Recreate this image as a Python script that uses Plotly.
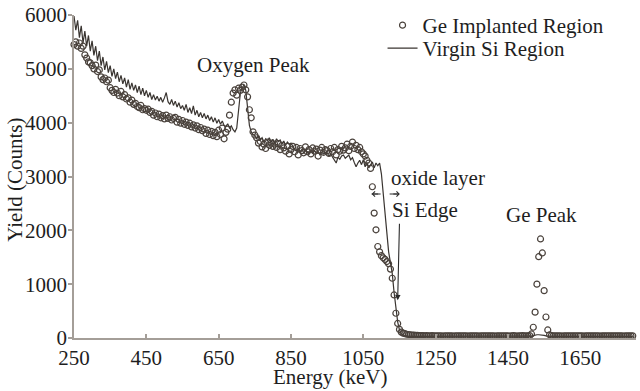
import plotly.graph_objects as go

# Energy grid (keV), one channel every 5 keV
energy_kev = list(range(250, 1800, 5))

# Ge implanted region (open circles), counts
ge_implanted = [
    5450, 5500, 5420, 5480, 5380, 5420, 5260, 5200, 5130, 5110, 5060, 5000, 5070, 4950, 4980, 4850, 4800, 4830, 4760, 4790,
    4650, 4600, 4560, 4620, 4550, 4500, 4580, 4480, 4520, 4440, 4460, 4380, 4420, 4340, 4360, 4300, 4280, 4320, 4240, 4260,
    4230, 4250, 4190, 4210, 4140, 4180, 4110, 4160, 4090, 4130, 4070, 4140, 4080, 4110, 4050, 4080, 4100, 4010, 4060, 3990,
    4040, 3970, 4010, 3950, 3990, 3920, 3960, 3900, 3940, 3870, 3910, 3850, 3880, 3800, 3860, 3780, 3840, 3760, 3820, 3740,
    3860, 3780, 3900, 3700, 3820, 3880, 4140, 4380, 4550, 4610, 4510, 4640, 4600, 4660, 4700, 4610, 4480, 4240, 4090, 3830,
    3770, 3720, 3620, 3650, 3550, 3600, 3520, 3640, 3580, 3620, 3560, 3600, 3540, 3610, 3500, 3580, 3530, 3470, 3560, 3420,
    3500, 3560, 3460, 3540, 3400, 3520, 3480, 3440, 3550, 3460, 3500, 3420, 3530, 3470, 3510, 3380, 3490, 3540, 3450, 3500,
    3480, 3430, 3520, 3460, 3540, 3400, 3500, 3470, 3560, 3490, 3530, 3600, 3480, 3560, 3640, 3520, 3580, 3500, 3540, 3460,
    3420, 3380, 3300, 3250, 3150, 2810, 2320, 2010, 1700, 1600, 1530, 1490, 1460, 1420, 1380, 1280, 1110, 800, 460, 270,
    160, 110, 90, 80, 70, 65, 60, 55, 55, 50, 50, 45, 45, 45, 40, 45, 40, 40, 45, 40,
    40, 38, 42, 40, 36, 40, 42, 38, 40, 40, 36, 42, 40, 38, 40, 42, 38, 40, 36, 40,
    42, 38, 40, 40, 36, 42, 40, 38, 40, 42, 38, 40, 40, 36, 40, 42, 38, 40, 40, 38,
    40, 35, 40, 45, 40, 35, 40, 40, 45, 40, 40, 40, 45, 75, 200, 480, 1000, 1510, 1840, 1580,
    880, 390, 150, 60, 45, 40, 42, 38, 40, 40, 36, 40, 42, 38, 40, 40, 38, 40, 42, 38,
    40, 40, 36, 40, 42, 38, 40, 40, 38, 42, 40, 36, 40, 40, 38, 40, 42, 38, 40, 40,
    38, 40, 42, 40, 36, 40, 40, 38, 40, 40,
]

# Virgin Si region (line), counts
virgin_si = [
    5980, 5720, 5900, 5580, 5800, 5480, 5700, 5420, 5620, 5330, 5520, 5250, 5420, 5150, 5330, 5060, 5220, 4980, 5140, 4930,
    5060, 4860, 5000, 4820, 4940, 4760, 4880, 4720, 4830, 4660, 4800, 4620, 4740, 4600, 4700, 4560, 4680, 4520, 4640, 4500,
    4600, 4470, 4560, 4430, 4520, 4420, 4490, 4400, 4470, 4380, 4460, 4560, 4390, 4340, 4430, 4320, 4400, 4290, 4370, 4260,
    4320, 4230, 4340, 4190, 4280, 4170, 4310, 4140, 4230, 4110, 4190, 4090, 4170, 4070, 4140, 4040, 4110, 4010, 4090, 3990,
    4060, 3970, 4030, 3950, 3930, 3980, 3900, 3940, 3870, 3830, 3900, 4240, 4550, 4650, 4700, 4600, 4290, 3950, 3830, 3780,
    3760, 3700, 3740, 3680, 3720, 3640, 3700, 3660, 3720, 3640, 3690, 3620, 3700, 3650, 3680, 3600, 3660, 3580, 3640, 3600,
    3620, 3550, 3500, 3470, 3520, 3460, 3500, 3440, 3480, 3460, 3420, 3470, 3440, 3480, 3430, 3460, 3400, 3450, 3420, 3440,
    3440, 3380, 3420, 3360, 3300, 3250, 3360, 3320, 3380, 3400, 3340, 3380, 3400, 3310, 3350, 3260, 3180, 3250, 3300, 3220,
    3310, 3180, 3260, 3160, 3220, 3270, 3160, 3250, 3200, 3250, 3050, 2650, 2250, 1900, 1600, 1400, 1200, 850, 550, 300,
    150, 80, 50, 40, 35, 32, 30, 30, 31, 30, 29, 30, 31, 30, 30, 29, 30, 31, 30, 30,
    30, 31, 30, 29, 30, 30, 31, 30, 30, 29, 30, 31, 30, 30, 29, 30, 30, 31, 30, 30,
    29, 30, 31, 30, 30, 30, 29, 30, 31, 30, 30, 30, 29, 30, 31, 30, 30, 29, 30, 30,
    30, 31, 30, 29, 30, 30, 31, 30, 30, 29, 30, 31, 30, 35, 45, 55, 60, 60, 60, 55,
    50, 40, 32, 30, 30, 29, 30, 31, 30, 30, 29, 30, 31, 30, 30, 30, 29, 30, 31, 30,
    30, 29, 30, 31, 30, 30, 30, 29, 30, 31, 30, 30, 29, 30, 30, 31, 30, 30, 29, 30,
    30, 31, 30, 29, 30, 30, 31, 30, 30, 30,
]

x_ticks = [250, 450, 650, 850, 1050, 1250, 1450, 1650]
y_ticks = [0, 1000, 2000, 3000, 4000, 5000, 6000]

FONT = "Liberation Serif"
AXIS_COLOR = "#a49e98"
TEXT_COLOR = "#1e1e1e"
ARROW_COLOR = "#2a2a2a"

fig = go.Figure()
fig.add_trace(go.Scatter(
    x=energy_kev, y=virgin_si, mode="lines", name="Virgin Si Region",
    line=dict(color="#3a3531", width=1.2), cliponaxis=False, legend="legend2",
))
fig.add_trace(go.Scatter(
    x=energy_kev, y=ge_implanted, mode="markers", name="Ge Implanted Region",
    marker=dict(symbol="circle-open", size=6, color="#4a423c", line=dict(width=1.2, color="#4a423c")),
    cliponaxis=False, legend="legend",
))

annotations = [
    dict(x=746, y=5070, text="Oxygen Peak", showarrow=False, xanchor="center", yanchor="middle"),
    dict(x=1120, y=2970, text="oxide layer", showarrow=False, xanchor="left", yanchor="middle"),
    dict(x=1125, y=2380, text="Si Edge", showarrow=False, xanchor="left", yanchor="middle"),
    dict(x=1543, y=2290, text="Ge Peak", showarrow=False, xanchor="center", yanchor="middle"),
    # axis titles
    dict(x=959, y=-0.121, xref="x", yref="paper", text="Energy (keV)", showarrow=False,
         xanchor="center", yanchor="middle"),
    dict(x=-0.105, y=0.49, xref="paper", yref="paper", text="Yield (Counts)", showarrow=False,
         xanchor="center", yanchor="middle", textangle=-90),
    # Si edge arrow
    dict(x=1145, y=700, ax=1150, ay=2150, axref="x", ayref="y", xref="x", yref="y",
         text="", showarrow=True, arrowhead=2, arrowsize=1, arrowwidth=1.1, arrowcolor=ARROW_COLOR),
    # oxide layer double arrow heads
    dict(x=1073, y=2675, ax=8, ay=0, text="", showarrow=True, arrowhead=4, arrowsize=1,
         arrowwidth=1, arrowcolor=ARROW_COLOR),
    dict(x=1151, y=2675, ax=-8, ay=0, text="", showarrow=True, arrowhead=4, arrowsize=1,
         arrowwidth=1, arrowcolor=ARROW_COLOR),
]

fig.add_shape(type="line", x0=1073, x1=1151, y0=2675, y1=2675, xref="x", yref="y",
              line=dict(color=ARROW_COLOR, width=1, dash="dash"))

legend_common = dict(xanchor="left", yanchor="top", bgcolor="rgba(0,0,0,0)",
                     font=dict(family=FONT, size=21, color=TEXT_COLOR), itemwidth=30)

fig.update_layout(
    width=640, height=391,
    margin=dict(l=74, r=4, t=15, b=53, autoexpand=False),
    paper_bgcolor="white", plot_bgcolor="white",
    font=dict(family=FONT, size=21, color=TEXT_COLOR),
    annotations=annotations,
    showlegend=True,
    legend=dict(x=0.549, y=1.031, **legend_common),
    legend2=dict(x=0.549, y=0.960, **legend_common),
    xaxis=dict(
        range=[250, 1804], tickvals=x_ticks, ticktext=[str(v) for v in x_ticks],
        ticks="inside", ticklen=4, tickcolor=AXIS_COLOR, tickwidth=1.5,
        showline=True, linecolor=AXIS_COLOR, linewidth=1.5, showgrid=False, zeroline=False,
        automargin=False,
    ),
    yaxis=dict(
        range=[0, 6000], tickvals=y_ticks,
        ticks="outside", ticklen=4, tickcolor=AXIS_COLOR, tickwidth=1.5,
        showline=True, linecolor=AXIS_COLOR, linewidth=1.5, showgrid=False, zeroline=False,
        ticklabelstandoff=-3, automargin=False,
    ),
)

fig.write_html("out.html", config={"displayModeBar": False},
               post_script="document.body.style.margin='0';")
